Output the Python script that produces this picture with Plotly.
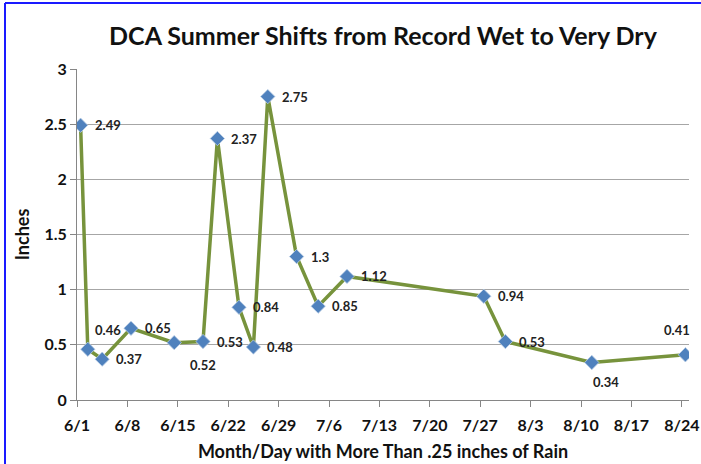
import pandas as pd
import plotly.graph_objects as go

# ---- data ----
year = 2013
dates = ["6/1", "6/2", "6/4", "6/8", "6/14", "6/18", "6/20", "6/23", "6/25", "6/27",
         "7/1", "7/4", "7/8", "7/27", "7/30", "8/11", "8/24"]
values = [2.49, 0.46, 0.37, 0.65, 0.52, 0.53, 2.37, 0.84, 0.48, 2.75,
          1.3, 0.85, 1.12, 0.94, 0.53, 0.34, 0.41]
labels = ["2.49", "0.46", "0.37", "0.65", "0.52", "0.53", "2.37", "0.84", "0.48", "2.75",
          "1.3", "0.85", "1.12", "0.94", "0.53", "0.34", "0.41"]
y_ticks = [0, 0.5, 1, 1.5, 2, 2.5, 3]

title = "DCA Summer Shifts from Record Wet to Very Dry"
x_title = "Month/Day with More Than .25 inches of Rain"
y_title = "Inches"

# ---- styling ----
FONT = "Lato"
LINE_COLOR = "#77933C"
MARKER_COLOR = "#4F81BD"
GRID_COLOR = "#A6A6A6"
AXIS_COLOR = "#868686"

# Excel date axis with points centred between day boundaries
x = pd.to_datetime([f"{year}/{d}" for d in dates]) + pd.Timedelta(hours=12)
x_start = pd.Timestamp(f"{year}-06-01")
x_end = pd.Timestamp(f"{year}-08-25")

# label placement (xanchor, xshift, yshift) per point; default right of point
label_place = {i: ("left", 12, 0) for i in range(len(values))}
label_place[1] = ("left", 5, 19)
label_place[4] = ("left", 14, -22)
label_place[15] = ("left", -1, -20)
label_place[16] = ("center", -8, 25)

fig = go.Figure()
fig.add_trace(go.Scatter(
    x=x, y=values, mode="lines+markers",
    line=dict(color=LINE_COLOR, width=3.5),
    marker=dict(symbol="diamond", size=11, color=MARKER_COLOR,
                line=dict(color="#B9CDE5", width=0.8)),
    hoverinfo="x+y", showlegend=False,
))

for i, (xv, yv, lab) in enumerate(zip(x, values, labels)):
    anchor, dx, dy = label_place[i]
    fig.add_annotation(
        x=xv, y=yv, text=lab, showarrow=False,
        xanchor=anchor, yanchor="middle", xshift=dx, yshift=dy,
        font=dict(family=FONT, size=13, color="#222222", weight="bold"),
    )

W, H = 701, 464
ml, mr, mt, mb = 77, 12, 69, 64
fig.update_layout(
    width=W, height=H, autosize=False,
    margin=dict(l=ml, r=mr, t=mt, b=mb),
    paper_bgcolor="white", plot_bgcolor="white",
    title=dict(text=title, x=0.5, xref="paper", xanchor="center",
               y=1 - 36 / H, yref="container", yanchor="middle",
               font=dict(family=FONT, size=25, color="#111111", weight="bold")),
    xaxis=dict(
        type="date", range=[x_start, x_end], automargin=False,
        tick0=x_start, dtick=7 * 24 * 3600 * 1000, tickformat="%-m/%-d",
        ticks="outside", ticklen=6, tickcolor=AXIS_COLOR, tickwidth=1,
        ticklabelstandoff=5,
        showline=True, linecolor=AXIS_COLOR, linewidth=1,
        showgrid=False, zeroline=False,
        tickfont=dict(family=FONT, size=16, color="#111111", weight="bold"),
        title=dict(text=x_title, standoff=12,
                   font=dict(family=FONT, size=18, color="#111111", weight="bold")),
    ),
    yaxis=dict(
        range=[0, 3], tickvals=y_ticks, automargin=False,
        ticks="outside", ticklen=6, tickcolor=AXIS_COLOR, tickwidth=1,
        showline=True, linecolor=AXIS_COLOR, linewidth=1,
        showgrid=True, gridcolor=GRID_COLOR, gridwidth=1, zeroline=False,
        tickfont=dict(family=FONT, size=16, color="#111111", weight="bold"),
        title=dict(text=y_title, standoff=10,
                   font=dict(family=FONT, size=18, color="#111111", weight="bold")),
    ),
)

# blue frame edges (left and top) as in the screenshot
pw = W - ml - mr
ph = H - mt - mb
def px_x(p):
    return (p - ml) / pw
def px_y(p):
    return (H - mb - p) / ph
fig.add_shape(type="line", xref="paper", yref="paper",
              x0=px_x(5), x1=px_x(5), y0=px_y(3), y1=px_y(H + 5),
              line=dict(color="#1A1AFF", width=2))
fig.add_shape(type="line", xref="paper", yref="paper",
              x0=px_x(5), x1=px_x(W + 5), y0=px_y(3), y1=px_y(3),
              line=dict(color="#1A1AFF", width=2))

fig.write_html("out.html", config={"displayModeBar": False},
               post_script="document.body.style.margin='0';document.body.style.overflow='hidden';")
